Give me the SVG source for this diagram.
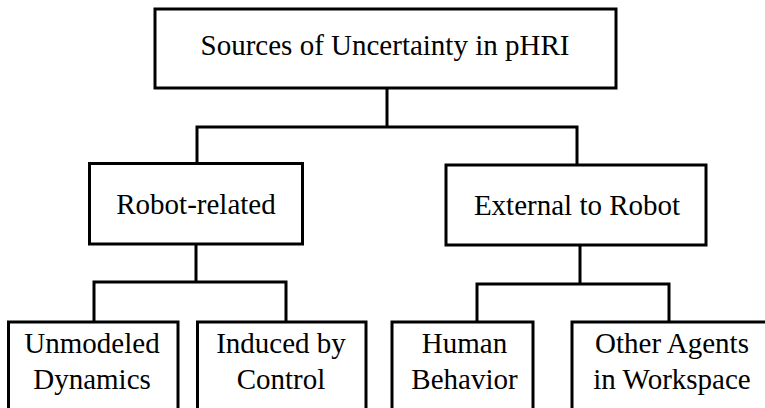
<svg xmlns="http://www.w3.org/2000/svg" width="765" height="408" viewBox="0 0 765 408">
<style>
.box{fill:#fff;stroke:#000;stroke-width:3}
.lbl{font-family:"Liberation Serif","Times New Roman",serif;font-size:29px;fill:#000;text-anchor:middle}
.con{fill:none;stroke:#000;stroke-width:3;stroke-linecap:square;stroke-linejoin:miter}
</style>
<rect width="765" height="408" fill="#fff"/>
<g id="connectors">
<path class="con" d="M387,88 V127 M197,163 V127 H577 V165"/>
<path class="con" d="M196,244 V282 M94,322 V282 H286 V322"/>
<path class="con" d="M580,245 V284 M477,322 V284 H669 V322"/>
</g>
<g id="root">
<rect class="box" x="155" y="9" width="461" height="79"/>
<text class="lbl" x="385" y="55">Sources of Uncertainty in pHRI</text>
</g>
<g id="robot-related">
<rect class="box" x="89.5" y="163.5" width="213" height="80.5"/>
<text class="lbl" x="196" y="214">Robot-related</text>
</g>
<g id="external">
<rect class="box" x="446" y="165" width="260" height="80"/>
<text class="lbl" x="577" y="215">External to Robot</text>
</g>
<g id="unmodeled">
<rect class="box" x="8.5" y="322" width="169.5" height="100"/>
<text class="lbl" x="92" y="353">Unmodeled</text>
<text class="lbl" x="92" y="389">Dynamics</text>
</g>
<g id="induced">
<rect class="box" x="197.5" y="322" width="168.5" height="100"/>
<text class="lbl" x="281" y="353">Induced by</text>
<text class="lbl" x="281" y="389">Control</text>
</g>
<g id="human">
<rect class="box" x="392" y="322" width="141" height="100"/>
<text class="lbl" x="464.5" y="353">Human</text>
<text class="lbl" x="464.5" y="389">Behavior</text>
</g>
<g id="other-agents">
<rect class="box" x="572" y="322" width="200" height="100"/>
<text class="lbl" x="672" y="353">Other Agents</text>
<text class="lbl" x="672" y="389">in Workspace</text>
</g>
</svg>
